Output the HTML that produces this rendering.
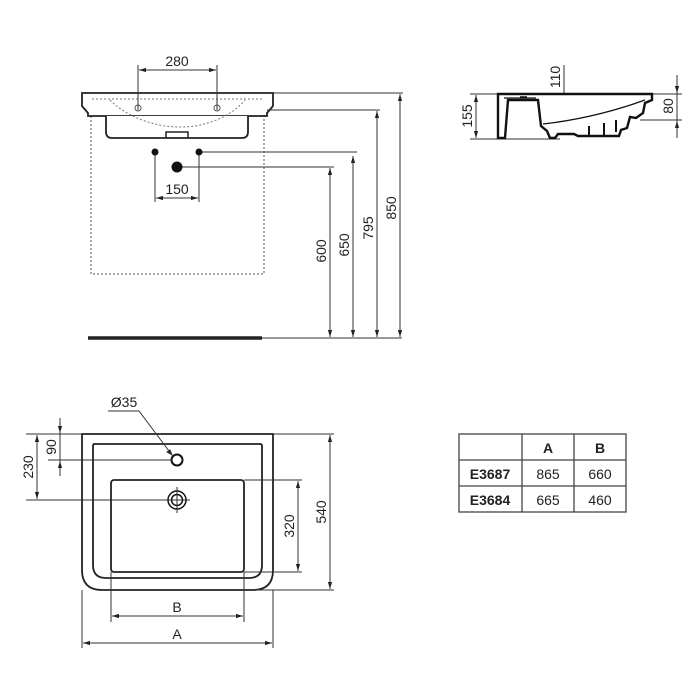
<!DOCTYPE html>
<html><head><meta charset="utf-8"><style>
html,body{margin:0;padding:0;background:#fff;}
svg{display:block;}
text{font-family:"Liberation Sans",Arial,sans-serif;fill:#222;}
</style></head><body>
<svg width="700" height="700" viewBox="0 0 700 700" xmlns="http://www.w3.org/2000/svg">
<defs>
<marker id="a" viewBox="0 0 10 10" refX="10" refY="5" markerWidth="7" markerHeight="7" orient="auto-start-reverse"><path d="M0,2 L10,5 L0,8 z" fill="#222"/></marker>
</defs>
<g stroke="#333" stroke-width="1" fill="none">
<rect x="91" y="116" width="173" height="158" stroke-dasharray="2,2" stroke="#555"/>
<path d="M82,93 H273 V106 L267,113 V116 H88 V113 L82,106 Z" stroke="#222" stroke-width="1.8" fill="#fff"/>
<path d="M106,116 V132 Q106,138 112,138 H242 Q248,138 248,132 V116" stroke="#222" stroke-width="1.8" fill="#fff"/>
<path d="M92,99 H262" stroke-dasharray="2,2" stroke="#777"/>
<path d="M110,100 Q130,120 165,126 Q180,128 195,126 Q228,120 245,100" stroke-dasharray="2,2" stroke="#777"/>
<path d="M166,138 V132 H188 V138" stroke="#222" stroke-width="1.5"/>
<circle cx="138" cy="108" r="3" stroke="#555"/><circle cx="217" cy="108" r="3" stroke="#555"/>
<line x1="88" y1="338" x2="262" y2="338" stroke="#222" stroke-width="3.5"/>
<line x1="262" y1="338" x2="402" y2="338"/>
<line x1="138" y1="65" x2="138" y2="110"/><line x1="217" y1="65" x2="217" y2="110"/>
<line x1="139" y1="70" x2="216" y2="70" marker-start="url(#a)" marker-end="url(#a)"/>
<line x1="273" y1="93" x2="403" y2="93"/>
<line x1="267" y1="110" x2="380" y2="110"/>
<line x1="199" y1="152" x2="357" y2="152"/>
<line x1="177" y1="167" x2="334" y2="167"/>
<line x1="400" y1="94" x2="400" y2="337" marker-start="url(#a)" marker-end="url(#a)"/>
<line x1="377" y1="111" x2="377" y2="337" marker-start="url(#a)" marker-end="url(#a)"/>
<line x1="353" y1="156" x2="353" y2="337" marker-start="url(#a)" marker-end="url(#a)"/>
<line x1="330" y1="168" x2="330" y2="337" marker-start="url(#a)" marker-end="url(#a)"/>
<line x1="155" y1="152" x2="155" y2="202"/><line x1="199" y1="152" x2="199" y2="202"/>
<line x1="156" y1="198" x2="198" y2="198" marker-start="url(#a)" marker-end="url(#a)"/>
<!-- Side view -->
<line x1="470" y1="94" x2="652" y2="94"/>
<line x1="470" y1="139" x2="560" y2="139"/>
<line x1="476" y1="95" x2="476" y2="138" marker-start="url(#a)" marker-end="url(#a)"/>
<line x1="652" y1="94" x2="682" y2="94"/>
<line x1="640" y1="120" x2="682" y2="120"/>
<line x1="677" y1="75" x2="677" y2="93" marker-end="url(#a)"/>
<line x1="677" y1="138" x2="677" y2="121" marker-end="url(#a)"/>
<line x1="677" y1="93" x2="677" y2="121"/>
<line x1="564" y1="65" x2="564" y2="124"/>
<line x1="564" y1="110" x2="564" y2="95" marker-end="url(#a)"/>
<line x1="564" y1="110" x2="564" y2="123" marker-end="url(#a)"/>
<path d="M498,94 H652 V100 L645,103 L643,113 L636,118 L630,117 L627,128 L621,130 L619,136 H578 L574,134 H558 L555,138 H550 L547,131 L541,126 L538,100 H508 L505,138 H498 Z" stroke="#111" stroke-width="2.4" fill="#fff"/>
<path d="M504,98 H536 M543,124 Q595,118 645,100" stroke="#111" stroke-width="1.3"/>
<path d="M589,126 V135 M604,123 V135 M616,120 V132" stroke="#111" stroke-width="2"/>
<path d="M520,97 H527" stroke="#111" stroke-width="1.5"/>
<!-- Plan view -->
<path d="M82,434 H273 V570 Q273,590 253,590 H102 Q82,590 82,570 Z" stroke="#222" stroke-width="1.8"/>
<path d="M93,444 H260 Q262,444 262,446 V565 Q262,578 249,578 H106 Q93,578 93,565 V446 Q93,444 95,444 Z" stroke="#222" stroke-width="1.8"/>
<rect x="111" y="480" width="133" height="92" rx="3" stroke="#222" stroke-width="1.8"/>
<circle cx="177" cy="460" r="5.5" stroke="#111" stroke-width="2"/>
<circle cx="177" cy="500" r="9" stroke="#111" stroke-width="1.5"/>
<circle cx="177" cy="500" r="5.5" stroke="#111" stroke-width="1.5"/>
<line x1="177" y1="487" x2="177" y2="513"/><line x1="164" y1="500" x2="190" y2="500"/>
<polyline points="108,411 139,411 172,455" />
<path d="M172,455 l-5,-3 l3,-2 z" fill="#222"/>
<line x1="26" y1="434" x2="82" y2="434"/>
<line x1="48" y1="460" x2="172" y2="460"/>
<line x1="26" y1="500" x2="168" y2="500"/>
<line x1="60" y1="418" x2="60" y2="433" marker-end="url(#a)"/>
<line x1="60" y1="476" x2="60" y2="461" marker-end="url(#a)"/>
<line x1="60" y1="433" x2="60" y2="461"/>
<line x1="37" y1="435" x2="37" y2="499" marker-start="url(#a)" marker-end="url(#a)"/>
<line x1="244" y1="480" x2="302" y2="480"/>
<line x1="244" y1="572" x2="302" y2="572"/>
<line x1="298" y1="481" x2="298" y2="571" marker-start="url(#a)" marker-end="url(#a)"/>
<line x1="273" y1="434" x2="334" y2="434"/>
<line x1="255" y1="590" x2="334" y2="590"/>
<line x1="330" y1="435" x2="330" y2="589" marker-start="url(#a)" marker-end="url(#a)"/>
<line x1="111" y1="572" x2="111" y2="622"/><line x1="244" y1="572" x2="244" y2="622"/>
<line x1="112" y1="616" x2="243" y2="616" marker-start="url(#a)" marker-end="url(#a)"/>
<line x1="82" y1="590" x2="82" y2="648"/><line x1="273" y1="590" x2="273" y2="648"/>
<line x1="83" y1="643" x2="272" y2="643" marker-start="url(#a)" marker-end="url(#a)"/>
<rect x="459" y="434" width="167" height="78" stroke="#444" stroke-width="1.3"/>
<line x1="522" y1="434" x2="522" y2="512" stroke="#444" stroke-width="1.3"/>
<line x1="574" y1="434" x2="574" y2="512" stroke="#444" stroke-width="1.3"/>
<line x1="459" y1="460" x2="626" y2="460" stroke="#444" stroke-width="1.3"/>
<line x1="459" y1="486" x2="626" y2="486" stroke="#444" stroke-width="1.3"/>
</g>
<circle cx="155" cy="152" r="3.5" fill="#111"/>
<circle cx="199" cy="152" r="3.5" fill="#111"/>
<circle cx="177" cy="167" r="5.5" fill="#111"/>
<g font-size="14">
<text x="177" y="66" text-anchor="middle">280</text>
<text x="177" y="194" text-anchor="middle">150</text>
<text transform="translate(326,251) rotate(-90)" text-anchor="middle">600</text>
<text transform="translate(349,245) rotate(-90)" text-anchor="middle">650</text>
<text transform="translate(373,228) rotate(-90)" text-anchor="middle">795</text>
<text transform="translate(396,208) rotate(-90)" text-anchor="middle">850</text>
<text transform="translate(472,116) rotate(-90)" text-anchor="middle">155</text>
<text transform="translate(560,77) rotate(-90)" text-anchor="middle">110</text>
<text transform="translate(673,106) rotate(-90)" text-anchor="middle">80</text>
<text x="124" y="407" text-anchor="middle">Ø35</text>
<text transform="translate(56,447) rotate(-90)" text-anchor="middle">90</text>
<text transform="translate(33,467) rotate(-90)" text-anchor="middle">230</text>
<text transform="translate(294,526) rotate(-90)" text-anchor="middle">320</text>
<text transform="translate(326,512) rotate(-90)" text-anchor="middle">540</text>
<text x="177" y="612" text-anchor="middle">B</text>
<text x="177" y="639" text-anchor="middle">A</text>
<text x="548" y="453" text-anchor="middle" font-weight="bold">A</text>
<text x="600" y="453" text-anchor="middle" font-weight="bold">B</text>
<text x="490" y="479" text-anchor="middle" font-weight="bold">E3687</text>
<text x="490" y="505" text-anchor="middle" font-weight="bold">E3684</text>
<text x="548" y="479" text-anchor="middle">865</text>
<text x="600" y="479" text-anchor="middle">660</text>
<text x="548" y="505" text-anchor="middle">665</text>
<text x="600" y="505" text-anchor="middle">460</text>
</g>
</svg>
</body></html>
